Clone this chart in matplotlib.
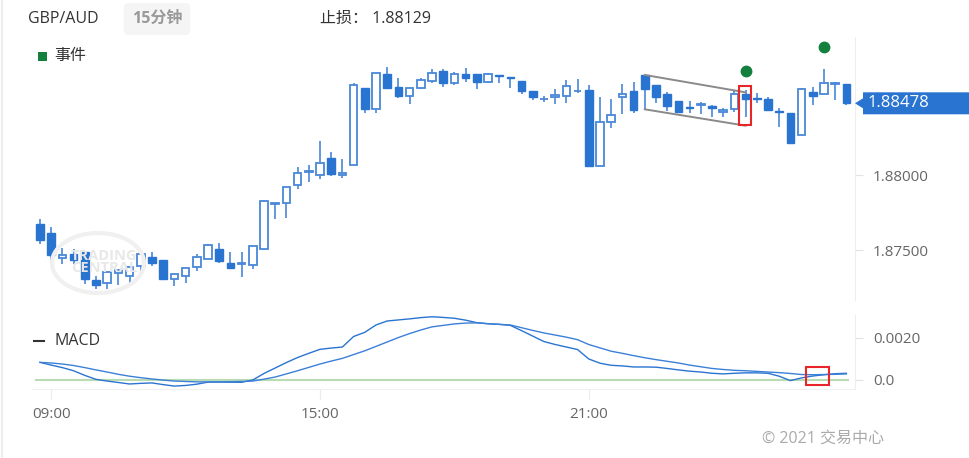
import numpy as np
import matplotlib
matplotlib.use('Agg')
import matplotlib.pyplot as plt
from matplotlib.patches import Rectangle, Polygon, Ellipse
from matplotlib.transforms import blended_transform_factory

plt.rcParams['font.family'] = ['Open Sans', 'Noto Sans CJK SC', 'DejaVu Sans']

# ---- 15 minute candles, GBP/AUD, 08:45 -> 02:45 ----
opens = [1.87673, 1.87613, 1.87447, 1.87473, 1.87487, 1.87300, 1.87280, 1.87347, 1.87327, 1.87393,
         1.87453, 1.87433, 1.87307, 1.87327, 1.87387, 1.87440, 1.87507, 1.87413, 1.87407, 1.87400,
         1.87507, 1.87807, 1.87813, 1.87933, 1.88023, 1.88000, 1.88113, 1.88000, 1.88067, 1.88580,
         1.88440, 1.88673, 1.88587, 1.88527, 1.88580, 1.88627, 1.88693, 1.88613, 1.88673, 1.88673,
         1.88620, 1.88667, 1.88653, 1.88627, 1.88560, 1.88507, 1.88520, 1.88527, 1.88557, 1.88567,
         1.88060, 1.88353, 1.88520, 1.88560, 1.88667, 1.88600, 1.88540, 1.88493, 1.88453, 1.88470,
         1.88460, 1.88420, 1.88440, 1.88540, 1.88513, 1.88507, 1.88427, 1.88413, 1.88267, 1.88553,
         1.88540, 1.88607, 1.88607]
highs = [1.87707, 1.87653, 1.87513, 1.87507, 1.87487, 1.87327, 1.87353, 1.87367, 1.87387, 1.87473,
         1.87487, 1.87433, 1.87340, 1.87380, 1.87473, 1.87540, 1.87547, 1.87487, 1.87487, 1.87527,
         1.87833, 1.87813, 1.87920, 1.88053, 1.88067, 1.88227, 1.88153, 1.88107, 1.88613, 1.88580,
         1.88680, 1.88720, 1.88647, 1.88580, 1.88647, 1.88707, 1.88707, 1.88687, 1.88713, 1.88673,
         1.88680, 1.88667, 1.88653, 1.88627, 1.88560, 1.88527, 1.88573, 1.88633, 1.88640, 1.88600,
         1.88520, 1.88507, 1.88607, 1.88620, 1.88667, 1.88600, 1.88553, 1.88493, 1.88493, 1.88487,
         1.88467, 1.88447, 1.88567, 1.88567, 1.88547, 1.88520, 1.88447, 1.88413, 1.88580, 1.88587,
         1.88707, 1.88620, 1.88607]
lows = [1.87540, 1.87413, 1.87407, 1.87407, 1.87273, 1.87240, 1.87240, 1.87267, 1.87280, 1.87353,
        1.87393, 1.87300, 1.87260, 1.87280, 1.87360, 1.87440, 1.87413, 1.87380, 1.87320, 1.87373,
        1.87507, 1.87707, 1.87713, 1.87907, 1.87953, 1.87973, 1.87993, 1.87980, 1.88067, 1.88413,
        1.88413, 1.88580, 1.88513, 1.88473, 1.88573, 1.88613, 1.88587, 1.88600, 1.88620, 1.88573,
        1.88613, 1.88613, 1.88580, 1.88540, 1.88500, 1.88487, 1.88473, 1.88480, 1.88547, 1.88060,
        1.88060, 1.88313, 1.88407, 1.88413, 1.88433, 1.88480, 1.88427, 1.88420, 1.88413, 1.88407,
        1.88387, 1.88387, 1.88420, 1.88387, 1.88480, 1.88433, 1.88320, 1.88213, 1.88267, 1.88467,
        1.88540, 1.88500, 1.88467]
closes = [1.87567, 1.87467, 1.87467, 1.87433, 1.87307, 1.87267, 1.87353, 1.87367, 1.87387, 1.87473,
          1.87413, 1.87307, 1.87340, 1.87380, 1.87453, 1.87533, 1.87427, 1.87380, 1.87413, 1.87527,
          1.87827, 1.87813, 1.87920, 1.88013, 1.88027, 1.88080, 1.88007, 1.88013, 1.88600, 1.88440,
          1.88680, 1.88580, 1.88527, 1.88580, 1.88633, 1.88680, 1.88613, 1.88673, 1.88647, 1.88620,
          1.88673, 1.88657, 1.88650, 1.88560, 1.88520, 1.88510, 1.88533, 1.88593, 1.88560, 1.88060,
          1.88353, 1.88400, 1.88540, 1.88433, 1.88573, 1.88520, 1.88460, 1.88420, 1.88450, 1.88473,
          1.88447, 1.88433, 1.88540, 1.88507, 1.88510, 1.88433, 1.88420, 1.88213, 1.88573, 1.88527,
          1.88613, 1.88613, 1.88478]

# MACD and signal line (units of 1e-4)
macd_line = [8.4, 7.1, 5.9, 4.4, 2.2, 0.3, -0.5, -1.2, -1.9, -1.6,
             -1.4, -2.2, -2.9, -2.6, -2.0, -1.0, -1.0, -1.05, -1.1, 0.0,
             3.1, 5.7, 8.3, 10.7, 12.7, 14.6, 15.2, 15.7, 20.7, 22.7,
             26.2, 28.1, 28.6, 29.1, 29.7, 30.1, 29.8, 29.4, 28.5, 27.3,
             26.8, 26.5, 26.0, 23.5, 20.9, 18.3, 16.9, 15.7, 14.5, 10.0,
             8.0, 7.0, 6.7, 6.2, 6.2, 6.1, 5.5, 4.8, 4.2, 3.8,
             3.2, 2.9, 3.2, 3.4, 3.4, 3.2, 1.8, -0.3, 1.0, 1.9,
             2.5, 3.0, 3.2]
signal_line = [8.4, 8.1, 7.6, 6.9, 5.9, 4.8, 3.8, 2.7, 1.8, 1.1,
               0.5, -0.05, -0.5, -0.7, -0.9, -0.9, -0.86, -0.8, -0.7, -0.5,
               0.4, 1.4, 2.9, 4.4, 6.0, 7.6, 9.0, 10.3, 12.1, 13.9,
               16.0, 18.1, 20.2, 22.1, 23.8, 25.3, 26.0, 26.7, 27.1, 27.2,
               26.8, 26.5, 26.2, 24.9, 23.6, 22.4, 21.4, 20.4, 19.2, 16.9,
               15.3, 13.7, 12.7, 11.6, 10.6, 9.7, 8.9, 8.1, 7.1, 6.3,
               5.5, 5.0, 4.6, 4.4, 4.1, 3.8, 3.5, 3.1, 2.6, 2.5,
               2.6, 2.7, 2.9]

time_ticks = [1, 25, 49]
time_labels = ['09:00', '15:00', '21:00']

event_idx = [63, 70]
event_price = [1.88693, 1.88853]

channel_idx = [54, 63]
channel_top = [1.88667, 1.88551]
channel_bottom = [1.88438, 1.88329]

signal_box_idx = (62.41, 63.48)
signal_box_price = (1.88333, 1.88593)
macd_box_idx = (68.4, 70.45)
macd_box_val = (-0.00024, 0.00062)

last_price = 1.88478
stop_loss = 1.88129

BLUE = '#2a74d1'
EDGE = '#4a88d8'
GREEN = '#14803e'
GRAY_TXT = '#666666'

W, H = 970, 458
fig = plt.figure(figsize=(W / 100, H / 100), dpi=100)


def px_axes(x0, y0, x1, y1):
    return fig.add_axes([x0 / W, 1 - y1 / H, (x1 - x0) / W, (y1 - y0) / H])


ax = px_axes(32, 37, 855, 300)
axm = px_axes(32, 315, 855, 389)

n = len(opens)
x = np.arange(n)
o, h, l, c = map(np.asarray, (opens, highs, lows, closes))
up = c >= o

# wicks
ax.vlines(x, l, h, color=EDGE, lw=1.2, zorder=2)
# bodies
bottoms = np.minimum(o, c)
heights = np.maximum(np.abs(c - o), 0.00002)
ax.bar(x[up], heights[up], bottom=bottoms[up], width=0.68, facecolor='white',
       edgecolor=EDGE, linewidth=1.3, zorder=3)
ax.bar(x[~up], heights[~up], bottom=bottoms[~up], width=0.68, facecolor=BLUE,
       edgecolor=BLUE, linewidth=1.0, zorder=3)

# events
ax.plot(event_idx, event_price, 'o', color=GREEN, ms=7.5, zorder=4, clip_on=False)

# channel
ax.plot(channel_idx, channel_top, color='#8a8a8a', lw=1.4, zorder=4)
ax.plot(channel_idx, channel_bottom, color='#8a8a8a', lw=1.4, zorder=4)
ax.add_patch(Rectangle((signal_box_idx[0], signal_box_price[0]),
                       signal_box_idx[1] - signal_box_idx[0],
                       signal_box_price[1] - signal_box_price[0],
                       fill=False, edgecolor='#e8262a', lw=1.5, zorder=5))

# watermark
fig.patches.append(Ellipse((98 / W, 1 - 263 / H), 92 / W, 60 / H, transform=fig.transFigure,
                           fill=False, edgecolor='#f0f0f0', lw=3.0, zorder=0))
fig.text(104 / W, 1 - 262 / H, 'TRADING\nCENTRAL', ha='center', va='center', color='#e8e8e8',
         fontsize=10.5, fontweight='bold', linespacing=0.85, zorder=0)

ax.set_xlim(-0.71, 72.77)
ax.set_ylim(1.87167, 1.88920)
ax.patch.set_alpha(0)
for s in ['top', 'left', 'bottom']:
    ax.spines[s].set_visible(False)
ax.spines['right'].set_color('#eeeeee')
ax.set_xticks([])
ax.yaxis.tick_right()
ax.set_yticks([1.875, 1.88])
ax.set_yticklabels(['1.87500', '1.88000'])
ax.tick_params(axis='y', length=6, color='#e3e3e3', labelcolor=GRAY_TXT, labelsize=11, pad=7)

# last price tag
tr = blended_transform_factory(fig.transFigure, ax.transData)
hh = 11 / 15000
ah = 5 / 15000
tag = Polygon([(855 / W, last_price), (863 / W, last_price + ah), (863 / W, last_price + hh),
               (1.0, last_price + hh), (1.0, last_price - hh), (863 / W, last_price - hh),
               (863 / W, last_price - ah)], closed=True, transform=tr, facecolor=BLUE,
              edgecolor='none', clip_on=False, zorder=6)
ax.add_patch(tag)
ax.text(868 / W, last_price, '%.5f' % last_price, transform=tr, color='white', fontsize=12,
        va='center', ha='left', zorder=7, clip_on=False)

# MACD panel
m = np.asarray(macd_line) * 1e-4
s = np.asarray(signal_line) * 1e-4
axm.axhline(0, color='#b9dbb3', lw=1.5, xmin=0.005, xmax=0.992, zorder=1)
axm.plot(x, m, color=BLUE, lw=1.0, zorder=3)
axm.plot(x, s, color='#3b80d8', lw=1.0, zorder=3)
axm.add_patch(Rectangle((macd_box_idx[0], macd_box_val[0]), macd_box_idx[1] - macd_box_idx[0],
                        macd_box_val[1] - macd_box_val[0], fill=False, edgecolor='#e8262a',
                        lw=1.5, zorder=5))
axm.set_xlim(-0.71, 72.77)
axm.set_ylim(-0.000429, 0.003095)
axm.patch.set_alpha(0)
for sp in ['top', 'left']:
    axm.spines[sp].set_visible(False)
axm.spines['right'].set_color('#eeeeee')
axm.spines['bottom'].set_color('#f0f0f0')
axm.yaxis.tick_right()
axm.set_yticks([0, 0.002])
axm.set_yticklabels(['0.0', '0.0020'])
axm.tick_params(axis='y', length=6, color='#e3e3e3', labelcolor=GRAY_TXT, labelsize=11, pad=7)
axm.set_xticks(time_ticks)
axm.set_xticklabels(time_labels)
axm.tick_params(axis='x', length=7, color='#ebebeb', labelcolor=GRAY_TXT, labelsize=11, pad=6)

# header and legends
fig.text(28 / W, 1 - 19 / H, 'GBP/AUD', color='#333333', fontsize=11.5, va='center', ha='left')
fig.text(157 / W, 1 - 19 / H, '15分钟', color='#999999', fontsize=11.5, fontweight='bold',
         va='center', ha='center',
         bbox=dict(boxstyle='round,pad=0.5,rounding_size=0.3', facecolor='#f5f5f5', edgecolor='none'))
fig.text(320 / W, 1 - 19 / H, '止损： %.5f' % stop_loss, color='#333333', fontsize=11.5,
         va='center', ha='left')
fig.patches.append(Rectangle((38 / W, 1 - 61 / H), 9 / W, 9 / H, transform=fig.transFigure,
                             facecolor=GREEN, edgecolor='none'))
fig.text(54 / W, 1 - 56 / H, '事件', color='#333333', fontsize=11.5, va='center', ha='left')
fig.lines.append(plt.Line2D([34 / W, 44 / W], [1 - 341 / H, 1 - 341 / H], transform=fig.transFigure,
                            color='#333333', lw=1.5))
fig.text(54 / W, 1 - 341 / H, 'MACD', color='#333333', fontsize=11.5, va='center', ha='left')
fig.text(884 / W, 1 - 439 / H, '© 2021 交易中心', color='#aaaaaa', fontsize=11.5, va='center',
         ha='right')
fig.lines.append(plt.Line2D([2 / W, 2 / W], [0, 1], transform=fig.transFigure, color='#eeeeee', lw=1.5))

fig.savefig('out.png', dpi=100)
